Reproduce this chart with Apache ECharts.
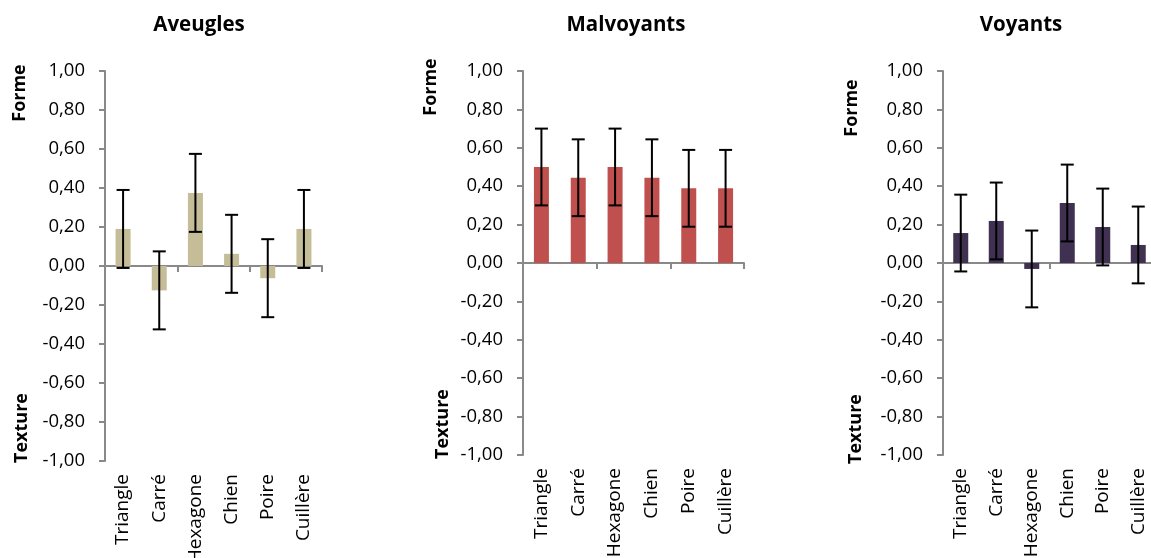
<!DOCTYPE html>
<html>
<head>
<meta charset="utf-8">
<script src="https://cdn.jsdelivr.net/npm/echarts@6/dist/echarts.min.js"></script>
<style>
  html, body { margin: 0; padding: 0; background: #fff; }
  #chart { width: 1151px; height: 558px; }
</style>
</head>
<body>
<div id="chart"></div>
<script>
// data
const categories = ['Triangle', 'Carré', 'Hexagone', 'Chien', 'Poire', 'Cuillère']
const yTicks = [-1, -0.8, -0.6, -0.4, -0.2, 0, 0.2, 0.4, 0.6, 0.8, 1]

const aveuglesValues = [0.19, -0.125, 0.375, 0.0625, -0.0625, 0.19]
const aveuglesErrors = [0.2, 0.2, 0.2, 0.2, 0.2, 0.2]

const malvoyantsValues = [0.5, 0.444, 0.5, 0.444, 0.389, 0.389]
const malvoyantsErrors = [0.2, 0.2, 0.2, 0.2, 0.2, 0.2]

const voyantsValues = [0.156, 0.219, -0.031, 0.3125, 0.1875, 0.094]
const voyantsErrors = [0.2, 0.2, 0.2, 0.2, 0.2, 0.2]

const FONT = 'Open Sans'
const AXIS_COLOR = '#898989'

const panels = [
  { title: 'Aveugles', values: aveuglesValues, errors: aveuglesErrors, color: '#C4BD97',
    grid: { left: 105, top: 71, width: 217, height: 390 }, titleX: 199,
    forme: [20, 93], texture: [22, 428] },
  { title: 'Malvoyants', values: malvoyantsValues, errors: malvoyantsErrors, color: '#C0504D',
    grid: { left: 523, top: 71, width: 221, height: 384 }, titleX: 626,
    forme: [431, 87], texture: [443, 424] },
  { title: 'Voyants', values: voyantsValues, errors: voyantsErrors, color: '#403152',
    grid: { left: 943, top: 71, width: 213, height: 384 }, titleX: 1021,
    forme: [852, 108], texture: [856, 429] }
]

function renderErr(params, api) {
  const x = api.value(0)
  const hi = api.coord([x, api.value(2)])
  const lo = api.coord([x, api.value(1)])
  const w = 6.5
  const st = { stroke: '#000', lineWidth: 2 }
  return {
    type: 'group',
    children: [
      { type: 'line', shape: { x1: hi[0], y1: hi[1], x2: lo[0], y2: lo[1] }, style: st },
      { type: 'line', shape: { x1: hi[0] - w, y1: hi[1], x2: hi[0] + w, y2: hi[1] }, style: st },
      { type: 'line', shape: { x1: lo[0] - w, y1: lo[1], x2: lo[0] + w, y2: lo[1] }, style: st }
    ]
  }
}

const grid = []
const xAxis = []
const yAxis = []
const series = []
const graphic = []

panels.forEach((p, i) => {
  grid.push(Object.assign({ outerBoundsMode: 'none', containLabel: false }, p.grid))
  // axis line on zero, ticks between categories
  xAxis.push({
    type: 'category',
    gridIndex: i,
    data: categories,
    axisLine: { onZero: true, lineStyle: { color: AXIS_COLOR, width: 2 } },
    axisTick: { show: true, length: 6, lineStyle: { color: AXIS_COLOR, width: 2 } },
    axisLabel: { show: false }
  })
  // labels at the bottom of the plot
  xAxis.push({
    type: 'category',
    gridIndex: i,
    position: 'bottom',
    data: categories,
    axisLine: { show: false, onZero: false },
    axisTick: { show: false },
    axisLabel: { rotate: 90, margin: 13, color: '#000', fontFamily: FONT, fontSize: 19 }
  })
  yAxis.push({
    type: 'value',
    gridIndex: i,
    min: yTicks[0],
    max: yTicks[yTicks.length - 1],
    interval: 0.2,
    splitLine: { show: false },
    axisLine: { show: true, lineStyle: { color: AXIS_COLOR, width: 2 } },
    axisTick: { show: true, length: 6, lineStyle: { color: AXIS_COLOR, width: 2 } },
    axisLabel: {
      margin: 20,
      color: '#000',
      fontFamily: FONT,
      fontSize: 18.5,
      formatter: v => v.toFixed(2).replace('.', ',')
    }
  })
  series.push({
    type: 'bar',
    xAxisIndex: i * 2,
    yAxisIndex: i,
    data: p.values,
    barWidth: 15,
    itemStyle: { color: p.color },
    silent: true
  })
  series.push({
    type: 'custom',
    xAxisIndex: i * 2,
    yAxisIndex: i,
    renderItem: renderErr,
    data: p.values.map((v, k) => [k, v - p.errors[k], v + p.errors[k]]),
    z: 5,
    silent: true
  })
  const bold = { fill: '#000', fontFamily: FONT, fontWeight: 'bold', textAlign: 'center', textVerticalAlign: 'middle' }
  graphic.push({ type: 'text', x: p.titleX, y: 25, style: Object.assign({ text: p.title, fontSize: 20.5 }, bold) })
  graphic.push({ type: 'text', x: p.forme[0], y: p.forme[1], rotation: Math.PI / 2, style: Object.assign({ text: 'Forme', fontSize: 18 }, bold) })
  graphic.push({ type: 'text', x: p.texture[0], y: p.texture[1], rotation: Math.PI / 2, style: Object.assign({ text: 'Texture', fontSize: 18 }, bold) })
})

const myChart = echarts.init(document.getElementById('chart'))
myChart.setOption({
  animation: false,
  grid,
  xAxis,
  yAxis,
  series,
  graphic
})
</script>
</body>
</html>
